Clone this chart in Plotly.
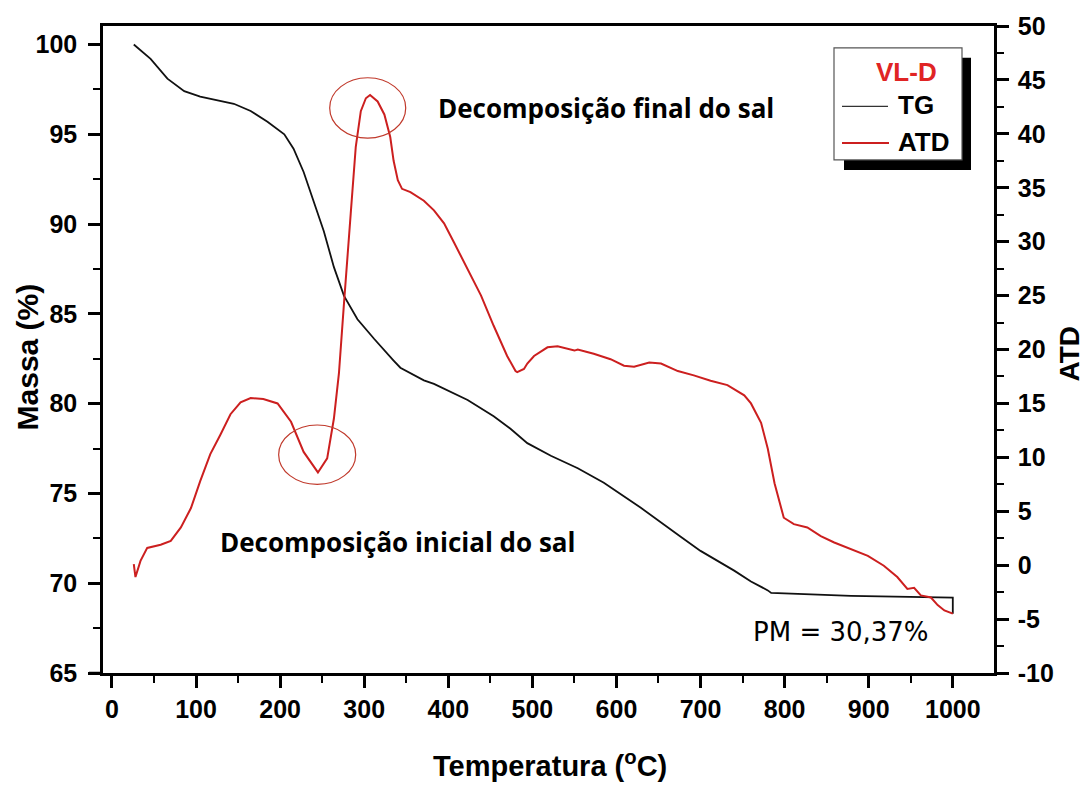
import plotly.graph_objects as go

# ---------------- data ----------------
temp_tg = [26, 46, 66, 86, 105, 125, 145, 165, 185, 205, 216, 228, 240, 252, 264,
           276, 292, 312, 335, 343, 371, 383, 423, 454, 474, 494, 522, 554, 585,
           629, 676, 700, 740, 760, 780, 784, 879, 1000, 1000]
massa_tg = [100.0, 99.2, 98.1, 97.4, 97.1, 96.9, 96.7, 96.3, 95.7, 95.0, 94.2, 92.9,
            91.3, 89.6, 87.6, 86.0, 84.7, 83.6, 82.4, 82.0, 81.3, 81.1, 80.2, 79.3,
            78.6, 77.8, 77.1, 76.4, 75.6, 74.2, 72.6, 71.8, 70.7, 70.1, 69.6, 69.46,
            69.3, 69.2, 68.3]

temp_atd = [26, 28, 34, 42, 58, 70, 82, 94, 105, 117, 129, 141, 153, 165, 180, 197,
            213, 228, 245, 256, 264, 270, 276, 280, 284, 290, 296, 302, 307, 316, 324,
            331, 335, 340, 345, 355, 371, 383, 395, 407, 423, 439, 454, 470, 480, 482,
            490, 494, 502, 506, 518, 530, 550, 554, 573, 593, 609, 621, 639, 653, 673,
            692, 712, 732, 752, 760, 772, 780, 788, 799, 811, 827, 843, 859, 879, 899,
            918, 934, 946, 954, 962, 974, 982, 990, 1000]
atd = [0.1, -1.1, 0.4, 1.6, 1.9, 2.25, 3.5, 5.3, 7.8, 10.3, 12.1, 14.0, 15.1, 15.5,
       15.4, 15.0, 13.3, 10.5, 8.6, 9.9, 13.6, 17.8, 24.3, 28.9, 32.6, 38.8, 42.1, 43.3,
       43.6, 43.0, 41.8, 39.7, 37.5, 35.7, 34.9, 34.6, 33.8, 32.9, 31.7, 29.9, 27.4,
       25.0, 22.2, 19.4, 18.0, 17.9, 18.2, 18.7, 19.4, 19.6, 20.2, 20.3, 19.9, 20.0,
       19.6, 19.1, 18.5, 18.4, 18.8, 18.7, 18.0, 17.6, 17.1, 16.7, 15.75, 15.0, 13.2,
       10.8, 7.6, 4.4, 3.8, 3.5, 2.7, 2.1, 1.5, 0.87, -0.05, -1.1, -2.2, -2.1, -2.8,
       -3.0, -3.7, -4.2, -4.5]

x_ticks = [0, 100, 200, 300, 400, 500, 600, 700, 800, 900, 1000]
y_ticks = [65, 70, 75, 80, 85, 90, 95, 100]
y2_ticks = [-10, -5, 0, 5, 10, 15, 20, 25, 30, 35, 40, 45, 50]
y2_ticktext = ["-10", "-5", "0", "5", "10", "15", "20", "25", "30", "35", "40",
               "45", "50"]

# ---------------- layout helpers ----------------
W, H = 1088, 785
L, R, T, B = 103, 994, 21, 673


def px(xp):
    return (xp - L) / (R - L)


def py(yp):
    return (B - yp) / (B - T)


RED = "#cc1f1f"
FONT = "Liberation Sans"

fig = go.Figure()
fig.add_trace(go.Scatter(x=temp_tg, y=massa_tg, mode="lines", name="TG",
                         line=dict(color="#111111", width=1.8), yaxis="y"))
fig.add_trace(go.Scatter(x=temp_atd, y=atd, mode="lines", name="ATD",
                         line=dict(color=RED, width=2), yaxis="y2"))

tickfont = dict(family=FONT, size=25, color="black", weight=700)
axis_common = dict(showgrid=False, zeroline=False, showline=True, linecolor="black",
                   linewidth=2.5, ticks="outside", ticklen=12, tickwidth=2.5,
                   tickcolor="black", tickfont=tickfont)

fig.update_layout(
    width=W, height=H, autosize=False,
    margin=dict(l=L, r=W - R, t=T, b=H - B),
    paper_bgcolor="white", plot_bgcolor="white", showlegend=False,
    xaxis=dict(range=[-10.6, 1049], tickvals=x_ticks, mirror=True,
               ticklabelstandoff=0,
               minor=dict(dtick=50, tick0=0, ticks="outside", ticklen=7,
                          tickwidth=2, tickcolor="black"),
               **axis_common),
    yaxis=dict(range=[65, 101.03], tickvals=y_ticks, ticklabelstandoff=6,
               minor=dict(dtick=2.5, tick0=65, ticks="outside", ticklen=7,
                          tickwidth=2, tickcolor="black"),
               **axis_common),
    yaxis2=dict(range=[-10, 50], tickvals=y2_ticks, ticktext=y2_ticktext,
                overlaying="y", side="right", ticklabelstandoff=4,
                minor=dict(dtick=2.5, tick0=-10, ticks="outside", ticklen=7,
                           tickwidth=2, tickcolor="black"),
                **axis_common),
)

shapes = []
# bottom axis extension to the left
shapes.append(dict(type="line", xref="paper", yref="paper", x0=px(89), x1=0,
                   y0=0, y1=0, line=dict(color="black", width=2.5)))
# ellipses
shapes.append(dict(type="circle", xref="x", yref="y2", x0=259, x1=349.4,
                   y0=39.6, y1=45.2, line=dict(color="#c0392b", width=1.2)))
shapes.append(dict(type="circle", xref="x", yref="y2", x0=198.3, x1=289.9,
                   y0=7.5, y1=13.0, line=dict(color="#c0392b", width=1.2)))
# legend box with shadow
shapes.append(dict(type="rect", xref="paper", yref="paper", x0=px(844), x1=px(971),
                   y0=py(166), y1=py(53), fillcolor="black", line=dict(width=0)))
shapes.append(dict(type="rect", xref="paper", yref="paper", x0=px(834), x1=px(962),
                   y0=py(156), y1=py(43), fillcolor="white",
                   line=dict(color="#555555", width=1.2)))
shapes.append(dict(type="line", xref="paper", yref="paper", x0=px(842), x1=px(888),
                   y0=py(102), y1=py(102), line=dict(color="#333333", width=1.2)))
shapes.append(dict(type="line", xref="paper", yref="paper", x0=px(842), x1=px(889),
                   y0=py(139), y1=py(139), line=dict(color=RED, width=2)))
fig.update_layout(shapes=shapes)

bold = dict(family=FONT, color="black", weight=700)
ann = []
ann.append(dict(text="VL-D", x=px(906), y=py(67), font=dict(family=FONT, size=26,
                color="#e02424", weight=700)))
ann.append(dict(text="TG", x=px(916), y=py(101), font=dict(size=26, **bold)))
ann.append(dict(text="ATD", x=px(924), y=py(138), font=dict(size=26, **bold)))
ann.append(dict(text="Decomposição final do sal", x=px(606), y=py(104),
                font=dict(family="Open Sans", size=26, color="black", weight=700)))
ann.append(dict(text="Decomposição inicial do sal", x=px(397), y=py(541),
                font=dict(family="Open Sans", size=26, color="black", weight=700)))
ann.append(dict(text="PM = 30,37%", x=px(841), y=py(632),
                font=dict(family="DejaVu Sans", size=26, color="black")))
ann.append(dict(text="Temperatura (<sup>o</sup>C)", x=px(550), y=py(765),
                font=dict(size=29, **bold)))
ann.append(dict(text="Massa (%)", x=px(27), y=py(355), textangle=-90,
                font=dict(size=30, **bold)))
ann.append(dict(text="ATD", x=px(1069), y=py(352), textangle=-90,
                font=dict(size=28, **bold)))
for a in ann:
    a.update(xref="paper", yref="paper", showarrow=False, xanchor="center",
             yanchor="middle")
fig.update_layout(annotations=ann)

fig.write_html("out.html")
